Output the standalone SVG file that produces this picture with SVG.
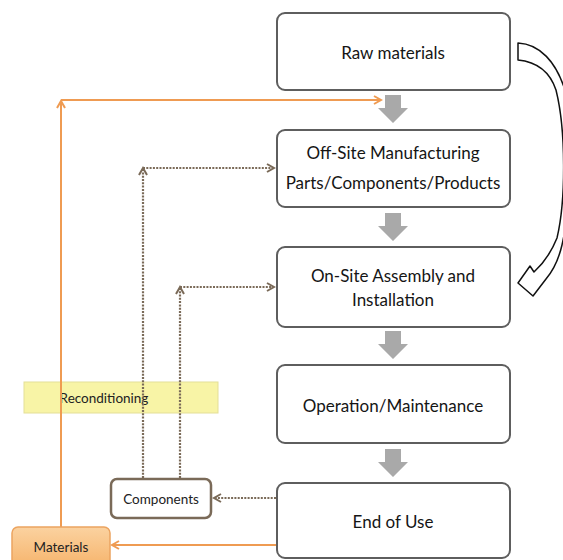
<svg xmlns="http://www.w3.org/2000/svg" width="563" height="560" viewBox="0 0 563 560">
<defs>
<style>
.box{fill:#fff;stroke:#5e5e5e;stroke-width:2}
.t{font-family:Lato,"Liberation Sans",sans-serif;font-size:17px;fill:#151515;text-anchor:middle}
.ts{font-family:Lato,"Liberation Sans",sans-serif;font-size:13.5px;fill:#222;text-anchor:middle}
.or{fill:none;stroke:#ef9b52;stroke-width:2}
.dot{fill:none;stroke:#7a6a58;stroke-width:2.2;stroke-dasharray:2 1.3}
.gray{fill:#a9a9a9}
</style>
<marker id="ao" markerWidth="10" markerHeight="10" refX="8" refY="5" orient="auto" markerUnits="userSpaceOnUse">
<path d="M1,1 L8,5 L1,9" fill="none" stroke="#ef9b52" stroke-width="2"/>
</marker>
<marker id="ad" markerWidth="10" markerHeight="10" refX="8" refY="5" orient="auto" markerUnits="userSpaceOnUse">
<path d="M1,1 L8,5 L1,9" fill="none" stroke="#7a6a58" stroke-width="2"/>
</marker>
<linearGradient id="mg" x1="0" y1="0" x2="0" y2="1">
<stop offset="0" stop-color="#fbd2a0"/>
<stop offset="1" stop-color="#f6b46c"/>
</linearGradient>
<path id="ga" d="M385,0 H401 V13 H408 L393,28 L378,13 H385 Z"/>
</defs>

<rect x="24" y="382" width="194" height="31" fill="#f8f4a6" stroke="#e4df98" stroke-width="1"/>
<text x="104" y="403" class="ts">Reconditioning</text>

<g id="connectors">
<line x1="61" y1="527" x2="61" y2="101" class="or" marker-end="url(#ao)"/>
<line x1="61" y1="100" x2="381" y2="100" class="or" marker-end="url(#ao)"/>
<line x1="276" y1="545" x2="112" y2="545" class="or" marker-end="url(#ao)"/>
<polyline points="143,478 143,168" class="dot" marker-end="url(#ad)"/>
<polyline points="143,168 274,168" class="dot" marker-end="url(#ad)"/>
<polyline points="180,478 180,287" class="dot" marker-end="url(#ad)"/>
<polyline points="180,287 274,287" class="dot" marker-end="url(#ad)"/>
<line x1="276" y1="498" x2="214" y2="498" class="dot" marker-end="url(#ad)"/>
<use href="#ga" y="95" class="gray"/>
<use href="#ga" y="213" class="gray"/>
<use href="#ga" y="331" class="gray"/>
<use href="#ga" y="449" class="gray"/>
<path d="M518,43 C540,44 556,62 565,90 C575,130 572,200 562,245 C558,262 552,272 546,279 L533,296 L518,283 L530,266 L534,272 C545,262 553,248 557,238 C566,200 566,130 556,90 C550,72 538,62 518,60 Z" fill="#fff" stroke="#111" stroke-width="1.5" stroke-linejoin="round"/>
</g>

<g id="raw">
<rect x="277" y="13" width="233" height="77" rx="8" class="box"/>
<text x="393" y="59" class="t">Raw materials</text>
</g>
<g id="offsite">
<rect x="277" y="130" width="233" height="77" rx="8" class="box"/>
<text x="393" y="159" class="t">Off-Site Manufacturing</text>
<text x="393" y="189" class="t">Parts/Components/Products</text>
</g>
<g id="onsite">
<rect x="277" y="247" width="233" height="80" rx="8" class="box"/>
<text x="393" y="282" class="t">On-Site Assembly and</text>
<text x="393" y="306" class="t">Installation</text>
</g>
<g id="operation">
<rect x="277" y="365" width="233" height="78" rx="8" class="box"/>
<text x="393" y="412" class="t">Operation/Maintenance</text>
</g>
<g id="end">
<rect x="277" y="483" width="233" height="75" rx="8" class="box"/>
<text x="393" y="528" class="t">End of Use</text>
</g>
<g id="components">
<rect x="111" y="479" width="100" height="39" rx="6" fill="#fff" stroke="#7a6a58" stroke-width="2.5"/>
<text x="161" y="504" class="ts">Components</text>
</g>
<g id="materials">
<rect x="12" y="527" width="98" height="40" rx="6" fill="url(#mg)" stroke="#eca460" stroke-width="1.5"/>
<text x="61" y="552" class="ts">Materials</text>
</g>
</svg>
